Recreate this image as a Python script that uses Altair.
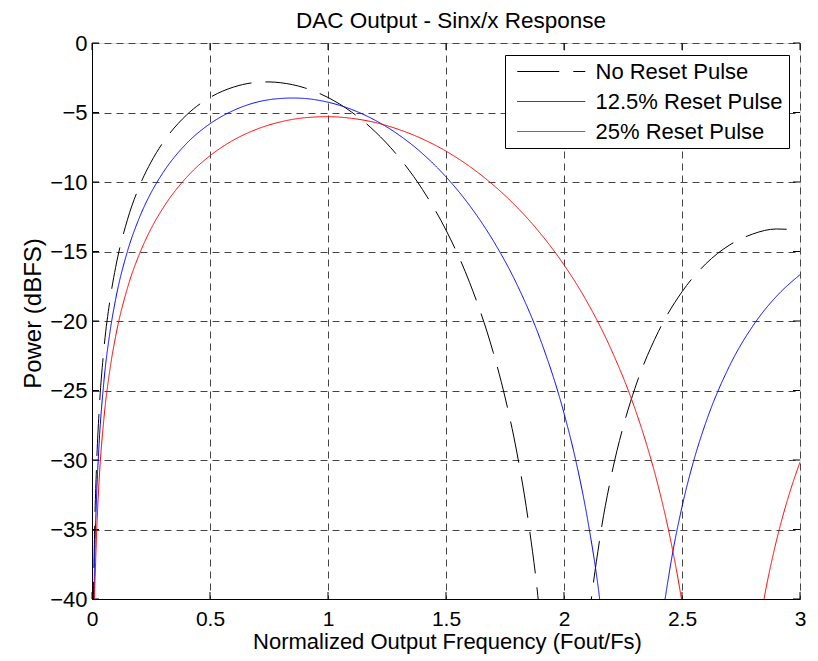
import altair as alt
import pandas as pd

# ---------------- data ----------------
chart_title = "DAC Output - Sinx/x Response"
series_names = ["No Reset Pulse", "12.5% Reset Pulse", "25% Reset Pulse"]
series_colors = ["#000000", "#0000ff", "#ff0000"]
series_dash = [[42, 14], [1, 0], [1, 0]]

black_x = [0.0, 0.005, 0.01, 0.02, 0.03, 0.05, 0.075, 0.1, 0.15, 0.2, 0.25, 0.3, 0.4, 0.5,
           0.6, 0.7, 0.75, 0.8, 0.9, 1.0, 1.1, 1.2, 1.3, 1.4, 1.5, 1.6, 1.7, 1.75, 1.8, 1.85, 1.9,
           1.95, 2.05, 2.1, 2.15, 2.2, 2.25, 2.3, 2.4, 2.5, 2.6, 2.7, 2.8, 2.9, 3.0]
black_y = [-70, -42.1, -36.1, -30.1, -26.54, -22.1, -18.62, -16.15, -12.72, -10.34, -8.57, -7.18, -5.19, -3.92,
           -3.17, -2.83, -2.80, -2.86, -3.22, -3.92, -4.97, -6.38, -8.21, -10.53, -13.46, -17.23, -22.25, -25.47,
           -29.43, -34.54, -41.7, -53.9, -54.4, -42.6, -35.85, -31.17, -27.65, -24.87, -20.76, -17.90, -15.90,
           -14.55, -13.74, -13.38, -13.46]

blue_x = [0.0, 0.005, 0.01, 0.02, 0.03, 0.05, 0.075, 0.1, 0.15, 0.2, 0.25, 0.3, 0.4, 0.5,
          0.6, 0.7, 0.8, 0.85, 0.9, 1.0, 1.1, 1.2, 1.3, 1.4, 1.5, 1.6, 1.7, 1.8, 1.9, 2.0, 2.05,
          2.1, 2.15, 2.2, 2.25, 2.35, 2.4, 2.45, 2.5, 2.55, 2.6, 2.7, 2.8, 2.9, 3.0]
blue_y = [-70, -44.4, -38.4, -32.38, -28.86, -24.42, -20.93, -18.45, -15.0, -12.60, -10.78, -9.35, -7.24, -5.81,
          -4.85, -4.25, -3.99, -3.96, -3.99, -4.26, -4.78, -5.56, -6.61, -7.95, -9.63, -11.69, -14.22, -17.35,
          -21.34, -26.63, -30.04, -34.28, -39.84, -48.0, -63.3, -53.5, -43.75, -37.7, -33.37, -30.03, -27.35,
          -23.28, -20.36, -18.23, -16.67]

red_x = [0.0, 0.01, 0.015, 0.02, 0.03, 0.05, 0.075, 0.1, 0.15, 0.2, 0.25, 0.3, 0.4, 0.5,
         0.6, 0.7, 0.8, 0.9, 1.0, 1.1, 1.2, 1.3, 1.4, 1.5, 1.6, 1.7, 1.8, 1.9, 2.0, 2.1,
         2.2, 2.3, 2.35, 2.4, 2.45, 2.5, 2.55, 2.6, 2.75, 2.8, 2.85, 2.9, 2.95, 3.0]
red_y = [-70, -41.08, -37.55, -35.06, -31.53, -27.10, -23.60, -21.12, -17.64, -15.22, -13.37, -11.90, -9.68, -8.11,
         -6.98, -6.19, -5.67, -5.38, -5.30, -5.42, -5.72, -6.22, -6.90, -7.78, -8.88, -10.21, -11.80, -13.70,
         -15.96, -18.69, -22.05, -26.28, -28.88, -31.93, -35.62, -40.27, -46.58, -56.4, -53.06, -45.09, -39.78,
         -35.82, -32.70, -30.15]

x_ticks = [0, 0.5, 1, 1.5, 2, 2.5, 3]
y_ticks = [-40, -35, -30, -25, -20, -15, -10, -5, 0]

# ---------------- layout constants ----------------
FONT = "Liberation Sans"
W, H = 708, 556
X_DOM = [0, 3]
Y_DOM = [-40, 0]
TICK_PX = 7
GRID = "#454545"

rows = []
for name, xs, ys in zip(series_names, [black_x, blue_x, red_x], [black_y, blue_y, red_y]):
    for xv, yv in zip(xs, ys):
        rows.append({"f": xv, "p": yv, "s": name})
df = pd.DataFrame(rows)

# inward tick marks on all four sides of the box (MATLAB style)
dx = TICK_PX * (X_DOM[1] - X_DOM[0]) / W
dy = TICK_PX * (Y_DOM[1] - Y_DOM[0]) / H
trows = []
for t in x_ticks:
    trows.append({"f": t, "f2": t, "p": Y_DOM[0], "p2": Y_DOM[0] + dy})
    trows.append({"f": t, "f2": t, "p": Y_DOM[1], "p2": Y_DOM[1] - dy})
for t in y_ticks:
    trows.append({"f": X_DOM[0], "f2": X_DOM[0] + dx, "p": t, "p2": t})
    trows.append({"f": X_DOM[1], "f2": X_DOM[1] - dx, "p": t, "p2": t})
tdf = pd.DataFrame(trows)

xscale = alt.Scale(domain=X_DOM, nice=False, zero=False)
yscale = alt.Scale(domain=Y_DOM, nice=False, zero=False)

x_axis = alt.Axis(
    values=x_ticks, title="Normalized Output Frequency (Fout/Fs)",
    labelExpr="'' + datum.value", grid=True, gridDash=[7, 5], gridColor=GRID,
    gridWidth=1, tickSize=0, labelPadding=26, labelBaseline="alphabetic", labelFlush=False,
    labelFontSize=21, titleFontSize=22, titleY=49, titleX=355,
    titleBaseline="alphabetic", titleFontWeight="normal", domainColor="black",
)
y_axis = alt.Axis(
    values=y_ticks, title="Power (dBFS)", grid=True, gridDash=[7, 5], gridColor=GRID,
    gridWidth=1, tickSize=0, labelPadding=5, labelBaseline="middle", labelFlush=False,
    labelFontSize=22, titleFontSize=24, titleX=-52, titleY=270, titleAngle=270,
    titleBaseline="alphabetic", titleAlign="center", titleFontWeight="normal",
    domainColor="black",
)

legend = alt.Legend(
    orient="none", legendX=413, legendY=12, padding=5.5, rowPadding=8,
    labelFontSize=22, labelFont=FONT, labelColor="black", labelOffset=63, labelLimit=400,
    symbolType="M-0.5,0H7.5", symbolSize=289, symbolStrokeWidth=1,
    strokeColor="black", fillColor="white", cornerRadius=0,
)

lines = alt.Chart(df).mark_line(clip=True, strokeWidth=1, interpolate="monotone").encode(
    x=alt.X("f:Q", scale=xscale, axis=x_axis),
    y=alt.Y("p:Q", scale=yscale, axis=y_axis),
    color=alt.Color("s:N", scale=alt.Scale(domain=series_names, range=series_colors),
                    legend=legend, title=None),
    strokeDash=alt.StrokeDash("s:N", scale=alt.Scale(domain=series_names, range=series_dash),
                              legend=legend, title=None),
)

ticks = alt.Chart(tdf).mark_rule(color="black", strokeWidth=1).encode(
    x=alt.X("f:Q", scale=xscale),
    x2="f2:Q",
    y=alt.Y("p:Q", scale=yscale),
    y2="p2:Q",
)

# chart title drawn as a text mark above the plot box
title_mark = alt.Chart(pd.DataFrame({"t": [chart_title]})).mark_text(
    font=FONT, fontSize=22.5, color="black", align="center", baseline="alphabetic"
).encode(text="t:N", x=alt.value(W / 2 + 5), y=alt.value(-15))

chart = alt.layer(ticks, lines, title_mark).properties(
    width=W, height=H,
    autosize=alt.AutoSizeParams(type="none"),
    padding={"left": 92, "top": 43, "right": 18, "bottom": 62},
).configure_view(
    stroke="black", strokeWidth=1
).configure_axis(
    labelFont=FONT, titleFont=FONT, labelColor="black", titleColor="black"
).configure(background="white")

chart.save("out.html", embed_options={"renderer": "svg", "actions": False})
